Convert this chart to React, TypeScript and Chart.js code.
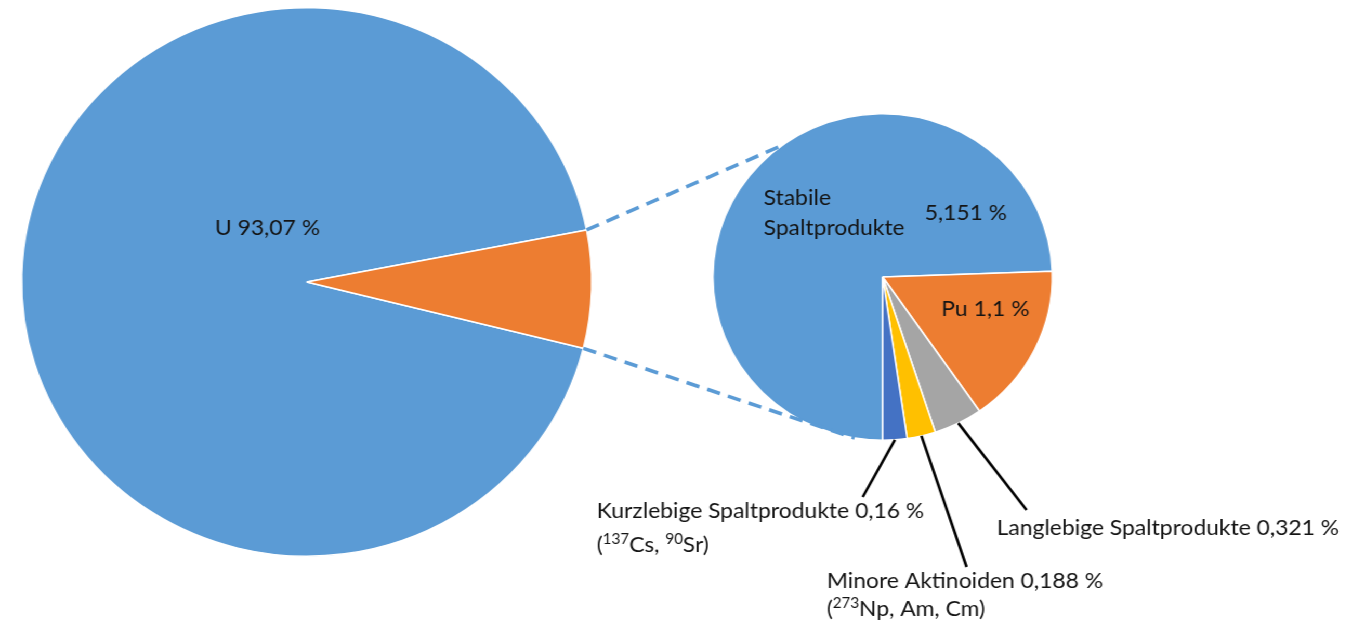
import React, { useEffect, useRef } from 'react';
import { Chart, registerables } from 'chart.js';

Chart.register(...registerables);

// Primary pie: uranium versus everything else in spent fuel
const mainCategories = ['U', 'Spaltprodukte und Aktinoiden'];
const mainValues = [93.07, 6.93];
const mainColors = ['#5B9BD5', '#ED7D31'];

// Secondary pie: breakdown of the non-uranium share
const detailCategories = [
  'Stabile Spaltprodukte',
  'Pu',
  'Langlebige Spaltprodukte',
  'Minore Aktinoiden',
  'Kurzlebige Spaltprodukte',
];
const detailValues = [5.151, 1.1, 0.321, 0.188, 0.16];
const detailColors = ['#5B9BD5', '#ED7D31', '#A5A5A5', '#FFC000', '#4472C4'];
// text between ^ marks is drawn as superscript
const detailNotes = ['', '', '', '(^273^Np, Am, Cm)', '(^137^Cs, ^90^Sr)'];

// ---- layout (unstretched canvas coordinates) ----
const STRETCH = 1.04;
const W = Math.round(1365 / STRETCH);
const H = 628;
const MAIN_AREA = { left: 20, top: 7, size: 550 };
const DETAIL_AREA = { left: 685, top: 113, size: 328 };
const MAIN_ROTATION = 104;
const DETAIL_ROTATION = 180;
// where the connector lines meet the secondary pie (degrees, clockwise from top)
const CONNECT_ANGLES = [-36.3, 189.5];

const FONT_FAMILY = 'Lato, "Open Sans", sans-serif';
const FONT_SIZE = 22;
const TEXT_COLOR = '#141414';

const mainLabelPos = { x: 206.7, y: 235 };
const detailLabelPos = [
  { x: 734.6, y: 205, lineGap: 30, valueX: 889.4, valueY: 220 },
  { x: 905.5, y: 316 },
  { x: 958.7, y: 535, leader: [987.5, 510] },
  { x: 795.2, y: 588, noteGap: 28, leader: [929.8, 567] },
  { x: 574, y: 518, noteGap: 34, leader: [829.8, 497] },
];

const fmt = (v: number) => v.toString().replace('.', ',') + ' %';
const font = (size: number) => `${size}px ${FONT_FAMILY}`;

function drawRich(ctx: CanvasRenderingContext2D, text: string, x: number, y: number) {
  const parts = text.split('^');
  let cx = x;
  parts.forEach((part, i) => {
    if (!part) return;
    const sup = i % 2 === 1;
    const size = sup ? FONT_SIZE * 0.66 : FONT_SIZE;
    ctx.font = font(size);
    ctx.fillText(part, cx, sup ? y - FONT_SIZE * 0.36 : y);
    cx += ctx.measureText(part).width;
  });
}

function pointAt(arc: any, canvasAngle: number, r?: number) {
  const rad = r ?? arc.outerRadius;
  return [arc.x + rad * Math.cos(canvasAngle), arc.y + rad * Math.sin(canvasAngle)];
}

const topDegToCanvas = (deg: number) => ((deg - 90) * Math.PI) / 180;

export default function App() {
  const mainRef = useRef<HTMLCanvasElement>(null);
  const detailRef = useRef<HTMLCanvasElement>(null);

  useEffect(() => {
    document.body.style.margin = '0';

    const mainLabelPlugin = {
      id: 'mainLabel',
      afterDatasetsDraw(chart: Chart) {
        const ctx = chart.ctx;
        ctx.save();
        ctx.fillStyle = TEXT_COLOR;
        ctx.textAlign = 'left';
        ctx.textBaseline = 'alphabetic';
        ctx.font = font(FONT_SIZE);
        ctx.fillText(`${mainCategories[0]} ${fmt(mainValues[0])}`, mainLabelPos.x, mainLabelPos.y);
        ctx.restore();
      },
    };

    const main = new Chart(mainRef.current!, {
      type: 'pie',
      data: {
        labels: mainCategories,
        datasets: [
          {
            data: mainValues,
            backgroundColor: mainColors,
            borderColor: '#ffffff',
            borderWidth: 1.5,
            hoverOffset: 0,
          },
        ],
      },
      options: {
        responsive: false,
        animation: false,
        events: [],
        rotation: MAIN_ROTATION,
        layout: {
          padding: {
            left: MAIN_AREA.left,
            top: MAIN_AREA.top,
            right: W - MAIN_AREA.left - MAIN_AREA.size,
            bottom: H - MAIN_AREA.top - MAIN_AREA.size,
          },
        },
        plugins: { legend: { display: false }, tooltip: { enabled: false } },
      },
      plugins: [mainLabelPlugin],
    });

    const detailPlugin = {
      id: 'detailAnnotations',
      afterDatasetsDraw(chart: Chart) {
        const ctx = chart.ctx;
        const arcs = chart.getDatasetMeta(0).data as any[];
        const mainArc = main.getDatasetMeta(0).data[1] as any;
        const centre = arcs[0];
        ctx.save();

        // dashed connectors from the split-off slice to the secondary pie
        if (mainArc) {
          const from = [
            pointAt(mainArc, mainArc.startAngle),
            pointAt(mainArc, mainArc.endAngle),
          ];
          ctx.strokeStyle = mainColors[0];
          ctx.lineWidth = 3.6;
          ctx.setLineDash([13, 8]);
          ctx.lineCap = 'butt';
          CONNECT_ANGLES.forEach((deg, i) => {
            const to = pointAt(centre, topDegToCanvas(deg));
            ctx.beginPath();
            ctx.moveTo(from[i][0], from[i][1]);
            ctx.lineTo(to[0], to[1]);
            ctx.stroke();
          });
          ctx.setLineDash([]);
        }

        // leader lines for the small slices
        ctx.strokeStyle = '#000000';
        ctx.lineWidth = 2.6;
        detailLabelPos.forEach((pos: any, i) => {
          if (!pos.leader) return;
          const arc = arcs[i];
          const mid = (arc.startAngle + arc.endAngle) / 2;
          const start = pointAt(arc, mid);
          ctx.beginPath();
          ctx.moveTo(start[0], start[1]);
          ctx.lineTo(pos.leader[0], pos.leader[1]);
          ctx.stroke();
        });

        // labels
        ctx.fillStyle = TEXT_COLOR;
        ctx.textAlign = 'left';
        ctx.textBaseline = 'alphabetic';
        detailLabelPos.forEach((pos: any, i) => {
          ctx.font = font(FONT_SIZE);
          const name = detailCategories[i];
          const value = fmt(detailValues[i]);
          if (pos.lineGap) {
            name.split(' ').forEach((line, j) => {
              ctx.fillText(line, pos.x, pos.y + j * pos.lineGap);
            });
            ctx.fillText(value, pos.valueX, pos.valueY);
          } else {
            ctx.fillText(`${name} ${value}`, pos.x, pos.y);
          }
          if (detailNotes[i]) {
            drawRich(ctx, detailNotes[i], pos.x, pos.y + pos.noteGap);
          }
        });
        ctx.restore();
      },
    };

    const detail = new Chart(detailRef.current!, {
      type: 'pie',
      data: {
        labels: detailCategories,
        datasets: [
          {
            data: detailValues,
            backgroundColor: detailColors,
            borderColor: '#ffffff',
            borderWidth: 1.5,
            hoverOffset: 0,
          },
        ],
      },
      options: {
        responsive: false,
        animation: false,
        events: [],
        rotation: DETAIL_ROTATION,
        layout: {
          padding: {
            left: DETAIL_AREA.left,
            top: DETAIL_AREA.top,
            right: W - DETAIL_AREA.left - DETAIL_AREA.size,
            bottom: H - DETAIL_AREA.top - DETAIL_AREA.size,
          },
        },
        plugins: { legend: { display: false }, tooltip: { enabled: false } },
      },
      plugins: [detailPlugin],
    });

    let alive = true;
    if (document.fonts && document.fonts.load) {
      document.fonts.load(font(FONT_SIZE)).then(() => {
        if (!alive) return;
        main.draw();
        detail.draw();
      });
    }

    return () => {
      alive = false;
      detail.destroy();
      main.destroy();
    };
  }, []);

  return (
    <div
      style={{
        position: 'fixed',
        left: 0,
        top: 0,
        width: W,
        height: H,
        background: '#ffffff',
        transform: `scaleX(${1365 / W})`,
        transformOrigin: '0 0',
      }}
    >
      <canvas ref={mainRef} width={W} height={H} style={{ position: 'absolute', left: 0, top: 0 }} />
      <canvas ref={detailRef} width={W} height={H} style={{ position: 'absolute', left: 0, top: 0 }} />
    </div>
  );
}
